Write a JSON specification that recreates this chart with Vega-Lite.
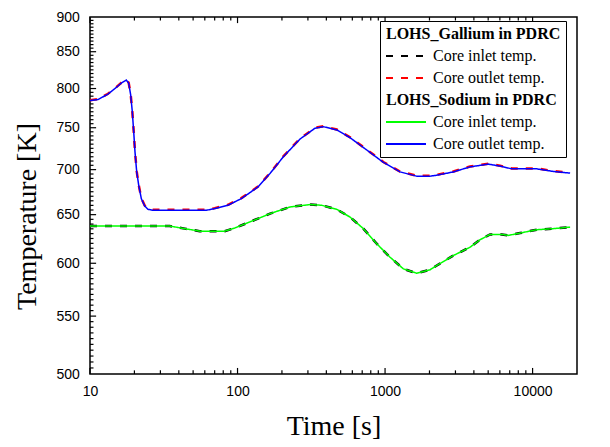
{
  "$schema": "https://vega.github.io/schema/vega-lite/v6.json",
  "autosize": "none",
  "width": 487,
  "height": 357,
  "padding": {"left": 90, "top": 17, "right": 33, "bottom": 73},
  "background": "white",
  "datasets": {
    "outlet": [
      {"t": 10, "Gallium outlet": 784.8, "Sodium outlet": 784.3},
      {"t": 11.33, "Gallium outlet": 786.1, "Sodium outlet": 785.6},
      {"t": 13.24, "Gallium outlet": 793.2, "Sodium outlet": 792.7},
      {"t": 15.07, "Gallium outlet": 801.9, "Sodium outlet": 801.4},
      {"t": 16.31, "Gallium outlet": 807.7, "Sodium outlet": 807.2},
      {"t": 17.62, "Gallium outlet": 811.7, "Sodium outlet": 811.2},
      {"t": 18.29, "Gallium outlet": 807.7, "Sodium outlet": 807.2},
      {"t": 18.87, "Gallium outlet": 792.2, "Sodium outlet": 791.7},
      {"t": 19.35, "Gallium outlet": 770.7, "Sodium outlet": 770.2},
      {"t": 19.78, "Gallium outlet": 745.6, "Sodium outlet": 745.1},
      {"t": 20.18, "Gallium outlet": 721.4, "Sodium outlet": 720.9},
      {"t": 20.73, "Gallium outlet": 697.9, "Sodium outlet": 697.4},
      {"t": 21.39, "Gallium outlet": 682.7, "Sodium outlet": 682.2},
      {"t": 22.27, "Gallium outlet": 667.9, "Sodium outlet": 667.4},
      {"t": 23.49, "Gallium outlet": 659.8, "Sodium outlet": 659.3},
      {"t": 24.73, "Gallium outlet": 656.2, "Sodium outlet": 655.7},
      {"t": 26.74, "Gallium outlet": 655.2, "Sodium outlet": 654.7},
      {"t": 61.45, "Gallium outlet": 655.2, "Sodium outlet": 654.7},
      {"t": 70.03, "Gallium outlet": 657.0, "Sodium outlet": 656.5},
      {"t": 86.21, "Gallium outlet": 660.6, "Sodium outlet": 660.1},
      {"t": 106.1, "Gallium outlet": 667.9, "Sodium outlet": 667.4},
      {"t": 137.7, "Gallium outlet": 680.8, "Sodium outlet": 680.3},
      {"t": 166.1, "Gallium outlet": 696.1, "Sodium outlet": 695.6},
      {"t": 204.5, "Gallium outlet": 715.5, "Sodium outlet": 715.0},
      {"t": 265.2, "Gallium outlet": 736.7, "Sodium outlet": 736.2},
      {"t": 335.2, "Gallium outlet": 749.9, "Sodium outlet": 749.4},
      {"t": 381.6, "Gallium outlet": 751.8, "Sodium outlet": 751.3},
      {"t": 470.6, "Gallium outlet": 747.8, "Sodium outlet": 747.3},
      {"t": 579.1, "Gallium outlet": 738.3, "Sodium outlet": 737.8},
      {"t": 751.6, "Gallium outlet": 723.5, "Sodium outlet": 723.0},
      {"t": 973.9, "Gallium outlet": 708.9, "Sodium outlet": 708.4},
      {"t": 1263, "Gallium outlet": 697.9, "Sodium outlet": 697.4},
      {"t": 1640, "Gallium outlet": 693.0, "Sodium outlet": 692.5},
      {"t": 2019, "Gallium outlet": 693.0, "Sodium outlet": 692.5},
      {"t": 2242, "Gallium outlet": 694.1, "Sodium outlet": 693.6},
      {"t": 2905, "Gallium outlet": 697.9, "Sodium outlet": 697.4},
      {"t": 3769, "Gallium outlet": 703.7, "Sodium outlet": 703.2},
      {"t": 5016, "Gallium outlet": 706.9, "Sodium outlet": 706.4},
      {"t": 6020, "Gallium outlet": 704.6, "Sodium outlet": 704.1},
      {"t": 7228, "Gallium outlet": 701.4, "Sodium outlet": 700.9},
      {"t": 10680, "Gallium outlet": 701.4, "Sodium outlet": 700.9},
      {"t": 13840, "Gallium outlet": 698.4, "Sodium outlet": 697.9},
      {"t": 17960, "Gallium outlet": 696.5, "Sodium outlet": 696.0}
    ],
    "inlet": [
      {"t": 10, "Gallium inlet": 637.9, "Sodium inlet": 637.9},
      {"t": 23.49, "Gallium inlet": 637.9, "Sodium inlet": 637.9},
      {"t": 34.7, "Gallium inlet": 637.9, "Sodium inlet": 637.9},
      {"t": 43.85, "Gallium inlet": 635.2, "Sodium inlet": 635.2},
      {"t": 55.43, "Gallium inlet": 632.6, "Sodium inlet": 632.6},
      {"t": 81.9, "Gallium inlet": 632.6, "Sodium inlet": 632.6},
      {"t": 95.7, "Gallium inlet": 635.8, "Sodium inlet": 635.8},
      {"t": 117.8, "Gallium inlet": 641.5, "Sodium inlet": 641.5},
      {"t": 137.7, "Gallium inlet": 645.8, "Sodium inlet": 645.8},
      {"t": 166.1, "Gallium inlet": 651.1, "Sodium inlet": 651.1},
      {"t": 227, "Gallium inlet": 658.3, "Sodium inlet": 658.3},
      {"t": 310, "Gallium inlet": 660.9, "Sodium inlet": 660.9},
      {"t": 372.2, "Gallium inlet": 660.1, "Sodium inlet": 660.1},
      {"t": 470.5, "Gallium inlet": 655.7, "Sodium inlet": 655.7},
      {"t": 579.1, "Gallium inlet": 647.4, "Sodium inlet": 647.4},
      {"t": 712.7, "Gallium inlet": 635.2, "Sodium inlet": 635.2},
      {"t": 878.5, "Gallium inlet": 619.6, "Sodium inlet": 619.6},
      {"t": 1081, "Gallium inlet": 606.0, "Sodium inlet": 606.0},
      {"t": 1331, "Gallium inlet": 594.5, "Sodium inlet": 594.5},
      {"t": 1640, "Gallium inlet": 590.2, "Sodium inlet": 590.2},
      {"t": 2019, "Gallium inlet": 593.6, "Sodium inlet": 593.6},
      {"t": 2242, "Gallium inlet": 597.8, "Sodium inlet": 597.8},
      {"t": 2905, "Gallium inlet": 607.7, "Sodium inlet": 607.7},
      {"t": 3770, "Gallium inlet": 616.1, "Sodium inlet": 616.1},
      {"t": 4406, "Gallium inlet": 623.7, "Sodium inlet": 623.7},
      {"t": 5150, "Gallium inlet": 629.2, "Sodium inlet": 629.2},
      {"t": 6183, "Gallium inlet": 629.2, "Sodium inlet": 629.2},
      {"t": 6853, "Gallium inlet": 628.2, "Sodium inlet": 628.2},
      {"t": 8230, "Gallium inlet": 630.6, "Sodium inlet": 630.6},
      {"t": 10680, "Gallium inlet": 634.1, "Sodium inlet": 634.1},
      {"t": 13840, "Gallium inlet": 635.2, "Sodium inlet": 635.2},
      {"t": 17960, "Gallium inlet": 636.8, "Sodium inlet": 636.8}
    ],
    "xmajor": [{"t": 10}, {"t": 100}, {"t": 1000}, {"t": 10000}],
    "xminor": [{"t": 20}, {"t": 30}, {"t": 40}, {"t": 50}, {"t": 60}, {"t": 70}, {"t": 80}, {"t": 90},
      {"t": 200}, {"t": 300}, {"t": 400}, {"t": 500}, {"t": 600}, {"t": 700}, {"t": 800}, {"t": 900},
      {"t": 2000}, {"t": 3000}, {"t": 4000}, {"t": 5000}, {"t": 6000}, {"t": 7000}, {"t": 8000}, {"t": 9000}],
    "ymajor": [{"T": 550}, {"T": 600}, {"T": 650}, {"T": 700}, {"T": 750}, {"T": 800}, {"T": 850}],
    "yminor": [{"T": 505}, {"T": 510}, {"T": 515}, {"T": 520}, {"T": 525}, {"T": 530}, {"T": 535}, {"T": 540}, {"T": 545},
      {"T": 555}, {"T": 560}, {"T": 565}, {"T": 570}, {"T": 575}, {"T": 580}, {"T": 585}, {"T": 590}, {"T": 595},
      {"T": 605}, {"T": 610}, {"T": 615}, {"T": 620}, {"T": 625}, {"T": 630}, {"T": 635}, {"T": 640}, {"T": 645},
      {"T": 655}, {"T": 660}, {"T": 665}, {"T": 670}, {"T": 675}, {"T": 680}, {"T": 685}, {"T": 690}, {"T": 695},
      {"T": 705}, {"T": 710}, {"T": 715}, {"T": 720}, {"T": 725}, {"T": 730}, {"T": 735}, {"T": 740}, {"T": 745},
      {"T": 755}, {"T": 760}, {"T": 765}, {"T": 770}, {"T": 775}, {"T": 780}, {"T": 785}, {"T": 790}, {"T": 795},
      {"T": 805}, {"T": 810}, {"T": 815}, {"T": 820}, {"T": 825}, {"T": 830}, {"T": 835}, {"T": 840}, {"T": 845},
      {"T": 855}, {"T": 860}, {"T": 865}, {"T": 870}, {"T": 875}, {"T": 880}, {"T": 885}, {"T": 890}, {"T": 895}]
  },
  "layer": [
    {
      "data": {"name": "xmajor"},
      "mark": {"type": "rule", "color": "black", "strokeWidth": 1.2},
      "encoding": {"x": {"field": "t", "type": "quantitative",
          "scale": {"type": "log", "domain": [10, 20000], "nice": false},
          "axis": {"orient": "bottom", "values": [10, 100, 1000, 10000], "format": "d",
            "ticks": false, "tickSize": 0, "labelPadding": 10.5, "title": "Time [s]",
            "titleX": 243.5, "titleY": 60, "titleAlign": "center", "titleBaseline": "alphabetic"}},
        "y": {"datum": 500, "type": "quantitative",
          "scale": {"type": "log", "domain": [500, 900], "nice": false, "zero": false},
          "axis": {"orient": "left", "values": [500, 550, 600, 650, 700, 750, 800, 850, 900], "format": "d",
            "ticks": false, "tickSize": 0, "labelPadding": 10.7, "title": "Temperature [K]",
            "titleX": -55, "titleY": 199, "titleAngle": -90, "titleAlign": "center", "titleBaseline": "alphabetic"}},
        "y2": {"datum": 505}}
    },
    {
      "data": {"name": "xmajor"},
      "mark": {"type": "rule", "color": "black", "strokeWidth": 1.2},
      "encoding": {"x": {"field": "t", "type": "quantitative"}, "y": {"datum": 891, "type": "quantitative"}, "y2": {"datum": 900}}
    },
    {
      "data": {"name": "xminor"},
      "mark": {"type": "rule", "color": "black", "strokeWidth": 1.2},
      "encoding": {"x": {"field": "t", "type": "quantitative"}, "y": {"datum": 500, "type": "quantitative"}, "y2": {"datum": 503}}
    },
    {
      "data": {"name": "xminor"},
      "mark": {"type": "rule", "color": "black", "strokeWidth": 1.2},
      "encoding": {"x": {"field": "t", "type": "quantitative"}, "y": {"datum": 894.8, "type": "quantitative"}, "y2": {"datum": 900}}
    },
    {
      "data": {"name": "ymajor"},
      "mark": {"type": "rule", "color": "black", "strokeWidth": 1.2},
      "encoding": {"y": {"field": "T", "type": "quantitative"}, "x": {"datum": 10, "type": "quantitative"}, "x2": {"datum": 11}}
    },
    {
      "data": {"name": "yminor"},
      "mark": {"type": "rule", "color": "black", "strokeWidth": 1.2},
      "encoding": {"y": {"field": "T", "type": "quantitative"}, "x": {"datum": 10, "type": "quantitative"}, "x2": {"datum": 10.56}}
    },
    {
      "data": {"name": "inlet"},
      "transform": [{"fold": ["Gallium inlet"], "as": ["series", "T"]}],
      "mark": {"type": "line", "strokeWidth": 2.5},
      "encoding": {
        "x": {"field": "t", "type": "quantitative"},
        "y": {"field": "T", "type": "quantitative"},
        "color": {"field": "series", "type": "nominal",
          "scale": {"domain": ["Gallium header", "Gallium inlet", "Gallium outlet", "Sodium header", "Sodium inlet", "Sodium outlet"],
            "range": ["transparent", "black", "#ff0000", "transparent", "#00ff00", "#0000ff"]},
          "legend": {"orient": "none", "legendX": 290, "legendY": 4, "title": null, "direction": "vertical",
            "symbolType": "stroke", "symbolSize": 1600, "symbolStrokeWidth": 2, "clipHeight": 16, "rowPadding": 6,
            "labelOffset": {"expr": "indexof(datum.value, 'header') >= 0 ? -41 : 6"},
            "labelFontWeight": {"expr": "indexof(datum.value, 'header') >= 0 ? 'bold' : 'normal'"},
            "padding": 5, "strokeColor": "black", "fillColor": "white",
            "labelFont": "Liberation Serif", "labelFontSize": 16, "labelColor": "black", "labelLimit": 300,
            "labelExpr": "datum.value == 'Gallium header' ? 'LOHS_Gallium in PDRC' : datum.value == 'Sodium header' ? 'LOHS_Sodium in PDRC' : indexof(datum.value, 'inlet') >= 0 ? 'Core inlet temp.' : 'Core outlet temp.'"}},
        "strokeDash": {"field": "series", "type": "nominal",
          "scale": {"domain": ["Gallium header", "Gallium inlet", "Gallium outlet", "Sodium header", "Sodium inlet", "Sodium outlet"],
            "range": [[1, 0], [7, 8], [7, 8], [1, 0], [1, 0], [1, 0]]},
          "legend": {"orient": "none", "legendX": 290, "legendY": 4, "title": null}}
      }
    },
    {
      "data": {"name": "outlet"},
      "transform": [{"fold": ["Gallium outlet"], "as": ["series", "T"]}],
      "mark": {"type": "line", "strokeWidth": 2.5},
      "encoding": {
        "x": {"field": "t", "type": "quantitative"},
        "y": {"field": "T", "type": "quantitative"},
        "color": {"field": "series", "type": "nominal"},
        "strokeDash": {"field": "series", "type": "nominal"}
      }
    },
    {
      "data": {"name": "inlet"},
      "transform": [{"fold": ["Sodium inlet"], "as": ["series", "T"]}],
      "mark": {"type": "line", "strokeWidth": 1.5},
      "encoding": {
        "x": {"field": "t", "type": "quantitative"},
        "y": {"field": "T", "type": "quantitative"},
        "color": {"field": "series", "type": "nominal"},
        "strokeDash": {"field": "series", "type": "nominal"}
      }
    },
    {
      "data": {"name": "outlet"},
      "transform": [{"fold": ["Sodium outlet"], "as": ["series", "T"]}],
      "mark": {"type": "line", "strokeWidth": 1.5},
      "encoding": {
        "x": {"field": "t", "type": "quantitative"},
        "y": {"field": "T", "type": "quantitative"},
        "color": {"field": "series", "type": "nominal"},
        "strokeDash": {"field": "series", "type": "nominal"}
      }
    }
  ],
  "config": {
    "view": {"stroke": "black", "strokeWidth": 1.5},
    "axis": {"labelFont": "Liberation Sans", "labelFontSize": 14, "labelColor": "black",
      "domain": false, "grid": false,
      "titleFont": "Liberation Serif", "titleFontSize": 28, "titleFontWeight": "normal", "titleColor": "black",
      "labelFlush": false, "labelOverlap": false, "labelBound": false}
  }
}
